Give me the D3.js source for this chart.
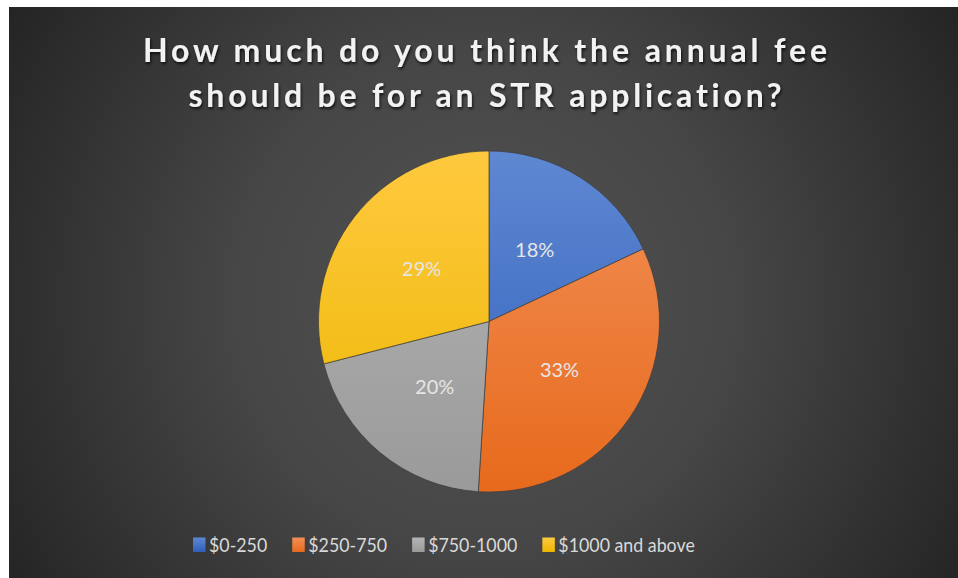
<!DOCTYPE html>
<html>
<head>
<meta charset="utf-8">
<script src="https://cdn.jsdelivr.net/npm/d3@7"></script>
<style>
  html, body { margin: 0; padding: 0; background: #ffffff; }
  svg { display: block; }
  text { font-variant-ligatures: none; font-feature-settings: "liga" 0, "clig" 0; }
</style>
</head>
<body>
<svg id="chart" width="958" height="578"></svg>
<script>
// Survey answers: share of respondents per fee range
const categories = ["$0-250", "$250-750", "$750-1000", "$1000 and above"];
const shares = [18, 33, 20, 29];
const sliceTop = ["#5f88d2", "#f29058", "#b5b5b5", "#ffc93f"];
const sliceBottom = ["#2e5fba", "#e76a1c", "#9a9a9a", "#ebb700"];
const titleLines = ["How much do you think the annual fee", "should be for an STR application?"];

const svg = d3.select("#chart");
const W = 958, H = 578;
const frame = { x: 9, y: 7, w: W - 9, h: H - 7 };
const FONT = "Lato, 'Open Sans', sans-serif";

const defs = svg.append("defs");

// dark radial backdrop
const bg = defs.append("radialGradient").attr("id", "bgGrad")
  .attr("gradientUnits", "userSpaceOnUse")
  .attr("cx", 484).attr("cy", 300).attr("r", 560);
bg.append("stop").attr("offset", "0%").attr("stop-color", "#535353");
bg.append("stop").attr("offset", "45%").attr("stop-color", "#464646");
bg.append("stop").attr("offset", "100%").attr("stop-color", "#242424");

// vertical shading per slice (pie-wide) and per legend swatch
const cx = 489, cy = 321.5, R = 170.5;
categories.forEach((c, i) => {
  const g = defs.append("linearGradient").attr("id", "slice" + i)
    .attr("gradientUnits", "userSpaceOnUse")
    .attr("x1", 0).attr("y1", -R).attr("x2", 0).attr("y2", R);
  g.append("stop").attr("offset", "0%").attr("stop-color", sliceTop[i]);
  g.append("stop").attr("offset", "100%").attr("stop-color", sliceBottom[i]);

  const s = defs.append("linearGradient").attr("id", "swatch" + i)
    .attr("x1", 0).attr("y1", 0).attr("x2", 0).attr("y2", 1);
  s.append("stop").attr("offset", "0%").attr("stop-color", sliceTop[i]);
  s.append("stop").attr("offset", "100%").attr("stop-color", sliceBottom[i]);
});

const shadow = defs.append("filter").attr("id", "titleShadow")
  .attr("x", "-10%").attr("y", "-30%").attr("width", "120%").attr("height", "160%");
shadow.append("feDropShadow").attr("dx", 1).attr("dy", 2).attr("stdDeviation", 1.6)
  .attr("flood-color", "#000").attr("flood-opacity", 0.75);

svg.append("rect")
  .attr("x", frame.x).attr("y", frame.y).attr("width", frame.w).attr("height", frame.h)
  .attr("fill", "url(#bgGrad)");

// title
const titleWidths = [684, 593];
const titleBase = [62, 107];
svg.append("g").attr("filter", "url(#titleShadow)")
  .selectAll("text").data(titleLines).join("text")
  .attr("x", 485)
  .attr("y", (d, i) => titleBase[i])
  .attr("text-anchor", "middle")
  .attr("font-family", FONT)
  .attr("font-weight", 700)
  .attr("font-size", 32)
  .attr("fill", "#f2f2f2")
  .attr("textLength", (d, i) => titleWidths[i])
  .attr("lengthAdjust", "spacing")
  .text(d => d);

// pie
const pie = d3.pie().sort(null).value(d => d);
const arc = d3.arc().innerRadius(0).outerRadius(R);
const arcs = pie(shares);

const pg = svg.append("g").attr("transform", `translate(${cx},${cy})`);
pg.selectAll("path").data(arcs).join("path")
  .attr("d", arc)
  .attr("fill", (d, i) => `url(#slice${i})`)
  .attr("stroke", "#3c3c3c")
  .attr("stroke-width", 0.7);

pg.selectAll("text").data(arcs).join("text")
  .attr("transform", d => {
    const [x, y] = arc.centroid(d);
    return `translate(${x},${y})`;
  })
  .attr("text-anchor", "middle")
  .attr("dy", "0.36em")
  .attr("font-family", FONT)
  .attr("font-size", 20)
  .attr("fill", "#e6e6e6")
  .text(d => d.data + "%");

// legend: swatch + label, laid out left to right
const lg = svg.append("g").attr("font-family", FONT)
  .attr("font-size", 20).attr("fill", "#d9d9d9");
let lx = 193;
const ly = 552;
categories.forEach((c, i) => {
  lg.append("rect").attr("x", lx).attr("y", ly - 14.5).attr("width", 12.5).attr("height", 14.5)
    .attr("fill", `url(#swatch${i})`);
  const t = lg.append("text").attr("x", lx + 16).attr("y", ly).text(c);
  const w = t.node().getComputedTextLength() * 0.89;
  t.attr("textLength", w).attr("lengthAdjust", "spacingAndGlyphs");
  lx += 16 + w + 25;
});
</script>
</body>
</html>
